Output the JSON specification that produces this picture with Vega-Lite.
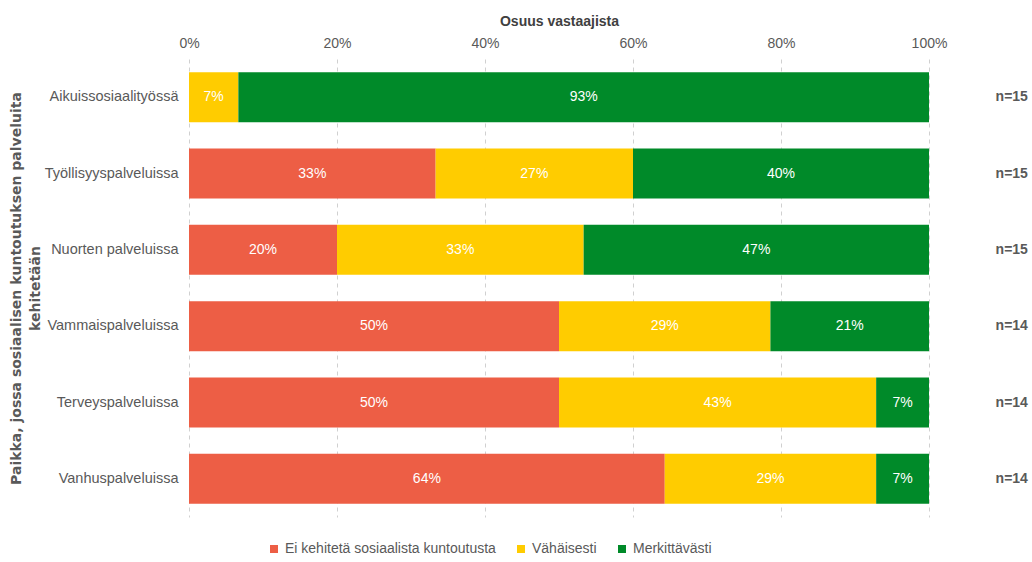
{
  "$schema": "https://vega.github.io/schema/vega-lite/v6.json",
  "width": 740,
  "height": 458,
  "autosize": "none",
  "padding": {"left": 189, "top": 59, "right": 103, "bottom": 45},
  "background": "white",
  "config": {"view": {"stroke": null}, "font": "Liberation Sans"},
  "datasets": {
    "shares": [
      {"paikka": "Aikuissosiaalityössä", "vastaus": "Ei kehitetä sosiaalista kuntoutusta", "jarj": 1, "osuus": 0},
      {"paikka": "Aikuissosiaalityössä", "vastaus": "Vähäisesti", "jarj": 2, "osuus": 0.0667},
      {"paikka": "Aikuissosiaalityössä", "vastaus": "Merkittävästi", "jarj": 3, "osuus": 0.9333},
      {"paikka": "Työllisyyspalveluissa", "vastaus": "Ei kehitetä sosiaalista kuntoutusta", "jarj": 1, "osuus": 0.3333},
      {"paikka": "Työllisyyspalveluissa", "vastaus": "Vähäisesti", "jarj": 2, "osuus": 0.2667},
      {"paikka": "Työllisyyspalveluissa", "vastaus": "Merkittävästi", "jarj": 3, "osuus": 0.4},
      {"paikka": "Nuorten palveluissa", "vastaus": "Ei kehitetä sosiaalista kuntoutusta", "jarj": 1, "osuus": 0.2},
      {"paikka": "Nuorten palveluissa", "vastaus": "Vähäisesti", "jarj": 2, "osuus": 0.3333},
      {"paikka": "Nuorten palveluissa", "vastaus": "Merkittävästi", "jarj": 3, "osuus": 0.4667},
      {"paikka": "Vammaispalveluissa", "vastaus": "Ei kehitetä sosiaalista kuntoutusta", "jarj": 1, "osuus": 0.5},
      {"paikka": "Vammaispalveluissa", "vastaus": "Vähäisesti", "jarj": 2, "osuus": 0.2857},
      {"paikka": "Vammaispalveluissa", "vastaus": "Merkittävästi", "jarj": 3, "osuus": 0.2143},
      {"paikka": "Terveyspalveluissa", "vastaus": "Ei kehitetä sosiaalista kuntoutusta", "jarj": 1, "osuus": 0.5},
      {"paikka": "Terveyspalveluissa", "vastaus": "Vähäisesti", "jarj": 2, "osuus": 0.4286},
      {"paikka": "Terveyspalveluissa", "vastaus": "Merkittävästi", "jarj": 3, "osuus": 0.0714},
      {"paikka": "Vanhuspalveluissa", "vastaus": "Ei kehitetä sosiaalista kuntoutusta", "jarj": 1, "osuus": 0.6429},
      {"paikka": "Vanhuspalveluissa", "vastaus": "Vähäisesti", "jarj": 2, "osuus": 0.2857},
      {"paikka": "Vanhuspalveluissa", "vastaus": "Merkittävästi", "jarj": 3, "osuus": 0.0714}
    ],
    "n": [
      {"paikka": "Aikuissosiaalityössä", "nlabel": "n=15"},
      {"paikka": "Työllisyyspalveluissa", "nlabel": "n=15"},
      {"paikka": "Nuorten palveluissa", "nlabel": "n=15"},
      {"paikka": "Vammaispalveluissa", "nlabel": "n=14"},
      {"paikka": "Terveyspalveluissa", "nlabel": "n=14"},
      {"paikka": "Vanhuspalveluissa", "nlabel": "n=14"}
    ]
  },
  "encoding": {
    "y": {
      "field": "paikka",
      "type": "nominal",
      "sort": ["Aikuissosiaalityössä", "Työllisyyspalveluissa", "Nuorten palveluissa", "Vammaispalveluissa", "Terveyspalveluissa", "Vanhuspalveluissa"],
      "scale": {"paddingInner": 0.345, "paddingOuter": 0.1725},
      "axis": {
        "ticks": false,
        "domain": false,
        "labelFontSize": 14.5,
        "labelColor": "#595959",
        "labelPadding": 11,
        "title": ["Paikka, jossa sosiaalisen kuntoutuksen palveluita", "kehitetään"],
        "titleFont": "DejaVu Sans",
        "titleFontSize": 14,
        "titleFontWeight": "bold",
        "titleColor": "#595959",
        "titleAngle": -90,
        "titleX": -180,
        "titleY": 229,
        "titleAlign": "center",
        "titleBaseline": "top",
        "titleLineHeight": 19
      }
    }
  },
  "layer": [
    {
      "data": {"name": "shares"},
      "transform": [
        {"stack": "osuus", "groupby": ["paikka"], "sort": [{"field": "jarj"}], "as": ["x0", "x1"]},
        {"calculate": "(datum.x0 + datum.x1) / 2", "as": "xm"}
      ],
      "layer": [
        {
          "mark": {"type": "bar"},
          "encoding": {
            "x": {
              "field": "x0",
              "type": "quantitative",
              "scale": {"domain": [0, 1], "nice": false},
              "axis": {
                "orient": "top",
                "format": ".0%",
                "values": [0, 0.2, 0.4, 0.6, 0.8, 1],
                "grid": true,
                "gridDash": [4, 4],
                "gridColor": "#d0d0d0",
                "ticks": false,
                "domain": false,
                "labelFlush": false,
                "labelFontSize": 14,
                "labelColor": "#595959",
                "labelPadding": 9,
                "title": "Osuus vastaajista",
                "titleFontSize": 14,
                "titleFontWeight": "bold",
                "titleColor": "#404040",
                "titlePadding": 8
              }
            },
            "x2": {"field": "x1"},
            "color": {
              "field": "vastaus",
              "type": "nominal",
              "scale": {
                "domain": ["Ei kehitetä sosiaalista kuntoutusta", "Vähäisesti", "Merkittävästi"],
                "range": ["#ED5E45", "#FFCC00", "#008A29"]
              },
              "legend": {
                "orient": "none",
                "direction": "horizontal",
                "legendX": 78,
                "legendY": 483,
                "title": null,
                "symbolType": "square",
                "symbolSize": 64,
                "symbolStrokeWidth": 0,
                "labelFontSize": 14,
                "labelColor": "#595959",
                "labelOffset": 4,
                "labelLimit": 400,
                "columnPadding": 18
              }
            }
          }
        },
        {
          "transform": [{"filter": "datum.osuus > 0"}],
          "mark": {"type": "text", "color": "white", "fontSize": 14},
          "encoding": {
            "x": {"field": "xm", "type": "quantitative"},
            "text": {"field": "osuus", "type": "quantitative", "format": ".0%"}
          }
        }
      ]
    },
    {
      "data": {"name": "n"},
      "mark": {"type": "text", "align": "left", "fontWeight": "bold", "fontSize": 14, "color": "#595959"},
      "encoding": {
        "x": {"datum": 1.09, "type": "quantitative"},
        "text": {"field": "nlabel", "type": "nominal"}
      }
    }
  ]
}
